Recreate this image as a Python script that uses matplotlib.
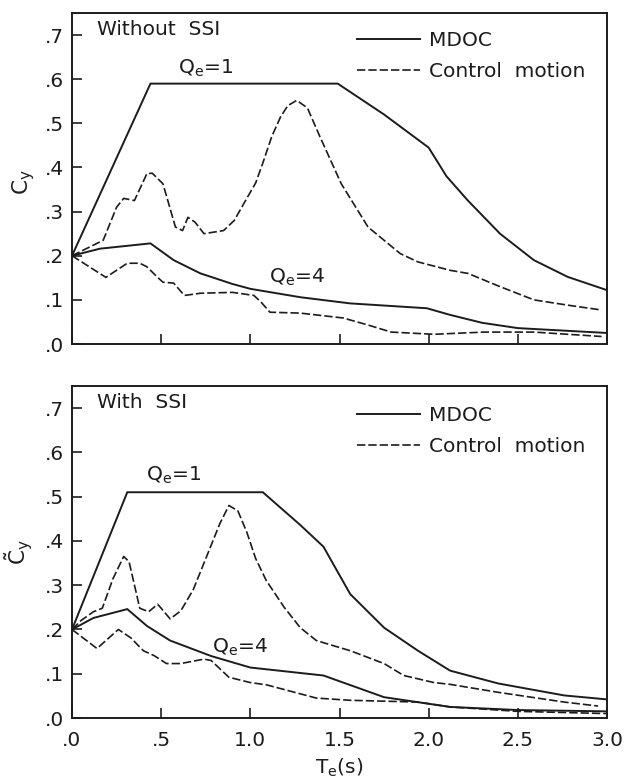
import matplotlib
matplotlib.use("Agg")
import matplotlib.pyplot as plt

# ---------------- data ----------------
# Top panel: Without SSI
top_mdoc_q1_T = [0, 0.44, 1.49, 1.75, 2.0, 2.1, 2.22, 2.40, 2.59, 2.78, 3.0]
top_mdoc_q1_C = [0.2, 0.59, 0.59, 0.52, 0.445, 0.38, 0.325, 0.25, 0.19, 0.152, 0.122]

top_ctrl_q1_T = [0, 0.1, 0.175, 0.25, 0.29, 0.35, 0.42, 0.45, 0.51, 0.58, 0.62, 0.65, 0.69,
                 0.74, 0.85, 0.91, 0.98, 1.03, 1.07, 1.12, 1.17, 1.21, 1.26, 1.32, 1.39,
                 1.51, 1.66, 1.75, 1.84, 1.94, 2.12, 2.22, 2.40, 2.59, 2.78, 2.97]
top_ctrl_q1_C = [0.2, 0.22, 0.235, 0.31, 0.33, 0.325, 0.386, 0.387, 0.363, 0.265, 0.257, 0.287,
                 0.276, 0.25, 0.257, 0.28, 0.33, 0.365, 0.41, 0.47, 0.515, 0.54, 0.552, 0.535,
                 0.47, 0.363, 0.265, 0.235, 0.205, 0.186, 0.167, 0.16, 0.13, 0.10, 0.088, 0.077]

top_mdoc_q4_T = [0, 0.157, 0.44, 0.57, 0.72, 0.90, 1.0, 1.28, 1.56, 1.99, 2.12, 2.3, 2.5, 3.0]
top_mdoc_q4_C = [0.2, 0.216, 0.228, 0.19, 0.16, 0.136, 0.125, 0.106, 0.092, 0.081, 0.066,
                 0.048, 0.036, 0.025]

top_ctrl_q4_T = [0, 0.19, 0.31, 0.38, 0.42, 0.48, 0.51, 0.57, 0.63, 0.72, 0.90, 1.02, 1.06,
                 1.11, 1.28, 1.52, 1.66, 1.79, 2.03, 2.31, 2.59, 2.97]
top_ctrl_q4_C = [0.2, 0.151, 0.183, 0.183, 0.175, 0.151, 0.14, 0.138, 0.11, 0.115, 0.117,
                 0.11, 0.095, 0.072, 0.07, 0.059, 0.043, 0.027, 0.022, 0.027, 0.027, 0.017]

# Bottom panel: With SSI
bot_mdoc_q1_T = [0, 0.31, 1.07, 1.28, 1.41, 1.56, 1.75, 1.94, 2.12, 2.39, 2.76, 3.0]
bot_mdoc_q1_C = [0.2, 0.51, 0.51, 0.436, 0.387, 0.28, 0.204, 0.152, 0.107, 0.078, 0.051, 0.042]

bot_ctrl_q1_T = [0, 0.05, 0.12, 0.17, 0.23, 0.29, 0.32, 0.38, 0.43, 0.48, 0.5, 0.55, 0.61,
                 0.68, 0.76, 0.83, 0.88, 0.93, 0.98, 1.03, 1.09, 1.19, 1.28, 1.37, 1.56,
                 1.75, 1.86, 2.03, 2.12, 2.39, 2.76, 2.95]
bot_ctrl_q1_C = [0.2, 0.22, 0.24, 0.248, 0.315, 0.365, 0.353, 0.248, 0.24, 0.257, 0.248,
                 0.224, 0.242, 0.29, 0.37, 0.44, 0.48, 0.468, 0.42, 0.36, 0.31, 0.25, 0.204,
                 0.175, 0.152, 0.123, 0.096, 0.08, 0.076, 0.058, 0.036, 0.027]

bot_mdoc_q4_T = [0, 0.12, 0.31, 0.42, 0.55, 0.78, 1.0, 1.41, 1.75, 2.12, 2.5, 3.0]
bot_mdoc_q4_C = [0.2, 0.226, 0.246, 0.208, 0.175, 0.14, 0.114, 0.096, 0.047, 0.025, 0.018, 0.015]

bot_ctrl_q4_T = [0, 0.14, 0.26, 0.33, 0.40, 0.46, 0.53, 0.61, 0.74, 0.78, 0.88, 1.0, 1.09,
                 1.37, 1.56, 1.94, 2.12, 2.5, 3.0]
bot_ctrl_q4_C = [0.2, 0.157, 0.2, 0.181, 0.152, 0.141, 0.123, 0.123, 0.133, 0.13, 0.092,
                 0.08, 0.075, 0.045, 0.04, 0.036, 0.025, 0.015, 0.01]

x_ticks = [0, 0.5, 1.0, 1.5, 2.0, 2.5, 3.0]
x_tick_labels = [".0", ".5", "1.0", "1.5", "2.0", "2.5", "3.0"]
y_ticks = [0, 0.1, 0.2, 0.3, 0.4, 0.5, 0.6, 0.7]
y_tick_labels = [".0", ".1", ".2", ".3", ".4", ".5", ".6", ".7"]

# ---------------- style ----------------
INK = "#1c1c1c"
FS = 14.5
plt.rcParams["font.family"] = ["DejaVu Sans"]
plt.rcParams["mathtext.fontset"] = "dejavusans"

fig = plt.figure(figsize=(6.26, 7.83), dpi=100)
W, H = 626, 783


def add_axes_px(left, top, right, bottom):
    return fig.add_axes([left / W, 1 - bottom / H, (right - left) / W, (bottom - top) / H])


ax_top = add_axes_px(72, 13, 607, 344)
ax_bot = add_axes_px(72, 386, 607, 718)

SOLID = dict(color=INK, lw=1.4, solid_joinstyle="miter")
DASH = dict(color=INK, lw=1.2, dashes=(5, 1.8))


def style_axes(ax, show_xlabels):
    ax.set_xlim(0, 3.0)
    ax.set_ylim(0, 0.75)
    ax.set_xticks(x_ticks)
    ax.set_yticks(y_ticks)
    ax.set_yticklabels(y_tick_labels)
    if show_xlabels:
        ax.set_xticklabels(x_tick_labels)
    else:
        ax.set_xticklabels([])
    ax.tick_params(direction="in", length=7, width=1.2, colors=INK, labelsize=FS)
    ax.tick_params(axis="x", pad=9)
    ax.tick_params(axis="y", pad=6)
    for s in ax.spines.values():
        s.set_linewidth(1.4)
        s.set_color(INK)


def draw_panel(ax, mq1T, mq1C, cq1T, cq1C, mq4T, mq4C, cq4T, cq4C):
    ax.plot(mq1T, mq1C, label="MDOC", **SOLID)
    ax.plot(cq1T, cq1C, label="Control  motion", **DASH)
    ax.plot(mq4T, mq4C, **SOLID)
    ax.plot(cq4T, cq4C, **DASH)


draw_panel(ax_top, top_mdoc_q1_T, top_mdoc_q1_C, top_ctrl_q1_T, top_ctrl_q1_C,
           top_mdoc_q4_T, top_mdoc_q4_C, top_ctrl_q4_T, top_ctrl_q4_C)
draw_panel(ax_bot, bot_mdoc_q1_T, bot_mdoc_q1_C, bot_ctrl_q1_T, bot_ctrl_q1_C,
           bot_mdoc_q4_T, bot_mdoc_q4_C, bot_ctrl_q4_T, bot_ctrl_q4_C)

style_axes(ax_top, False)
style_axes(ax_bot, True)

for ax, ytop in ((ax_top, 0.945), (ax_bot, 0.94)):
    ax.legend(loc="upper left", bbox_to_anchor=(0.533, ytop), frameon=False,
              fontsize=FS, handlelength=3.1, handletextpad=0.45, borderpad=0,
              borderaxespad=0, labelspacing=0.6, labelcolor=INK)

ax_top.text(0.047, 0.949, "Without  SSI", transform=ax_top.transAxes, fontsize=FS,
            color=INK, ha="left", va="center")
ax_bot.text(0.047, 0.949, "With  SSI", transform=ax_bot.transAxes, fontsize=FS,
            color=INK, ha="left", va="center")

QE1 = r"Q$_\mathregular{e}$=1"
QE4 = r"Q$_\mathregular{e}$=4"
ax_top.text(0.75, 0.625, QE1, fontsize=FS, color=INK, ha="center", va="center")
ax_top.text(1.26, 0.151, QE4, fontsize=FS, color=INK, ha="center", va="center")
ax_bot.text(0.57, 0.548, QE1, fontsize=FS, color=INK, ha="center", va="center")
ax_bot.text(0.94, 0.159, QE4, fontsize=FS, color=INK, ha="center", va="center")

ax_top.set_ylabel(r"C$_\mathregular{y}$", fontsize=FS + 1, color=INK, va="center")
ax_top.yaxis.set_label_coords(-0.09, 0.49)
ax_bot.set_ylabel(r"$\tilde{\mathregular{C}}_\mathregular{y}$", fontsize=FS + 1, color=INK,
                  va="center")
ax_bot.yaxis.set_label_coords(-0.1, 0.5)

ax_bot.set_xlabel(r"T$_\mathregular{e}$(s)", fontsize=FS, color=INK, labelpad=5)

fig.savefig("out.png", dpi=100, facecolor="white")
